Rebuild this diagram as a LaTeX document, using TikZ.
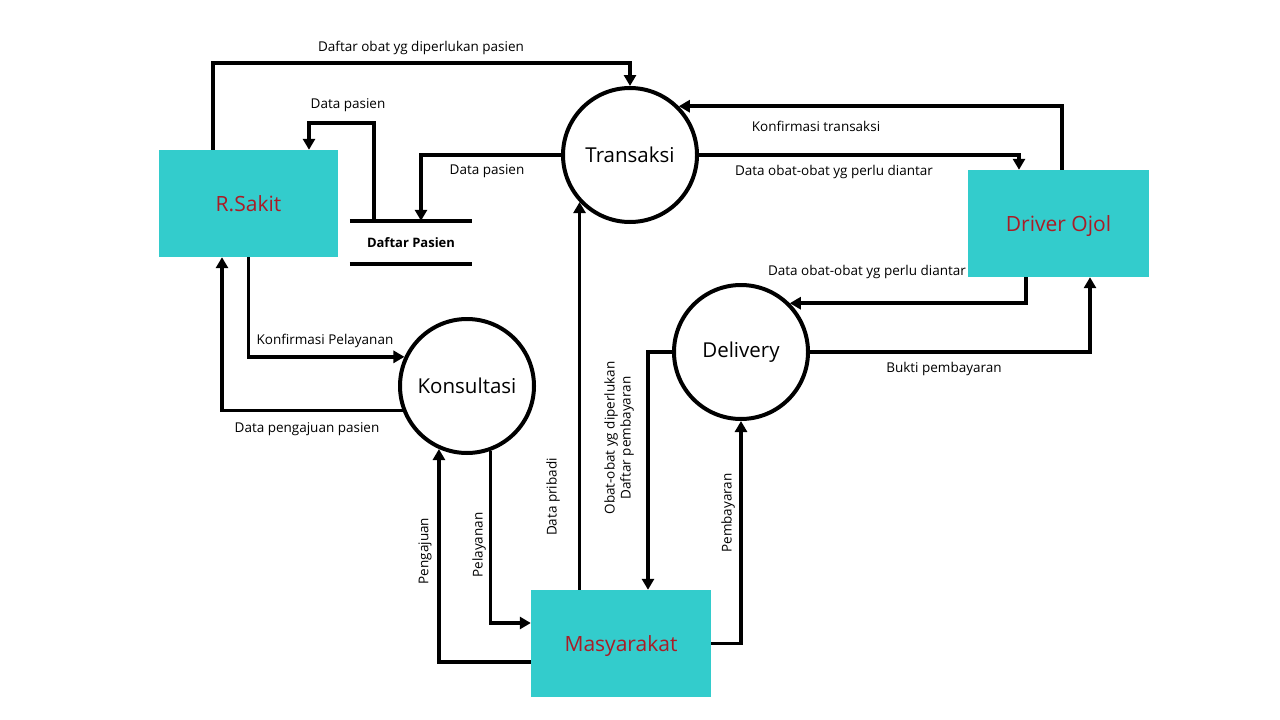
\documentclass[tikz,border=0pt]{standalone}
\usepackage{fontspec}
\setmainfont{Open Sans}
\usetikzlibrary{arrows.meta,calc}
\definecolor{teal2}{RGB}{51,204,204}
\definecolor{darkred2}{RGB}{170,28,38}
\tikzset{
  entity/.style={rectangle,fill=teal2,draw=none,font=\fontsize{21}{25}\selectfont,text=darkred2,text depth=0pt},
  process/.style={circle,draw=black,line width=4pt,minimum size=134pt,inner sep=0pt,font=\fontsize{20.5}{24}\selectfont,fill=white},
  flow/.style={line width=3.5pt,-{Triangle[length=11pt,width=12pt]}},
  lbl/.style={font=\fontsize{13.5}{16}\selectfont,inner sep=0pt},
  vlbl/.style={lbl,rotate=90,align=center},
  storeline/.style={line width=3.5pt}
}
\begin{document}
\begin{tikzpicture}[x=1pt,y=-1pt]
\useasboundingbox[fill=white] (0,0) rectangle (1280,720);
% nodes
\node[entity,minimum width=179pt,minimum height=107pt] (rs) at (248.5,203.5) {R.Sakit};
\node[entity,minimum width=181pt,minimum height=107pt] (dr) at (1058.5,223.5) {Driver Ojol};
\node[entity,minimum width=180pt,minimum height=107pt] (ms) at (621,643.5) {Masyarakat};
\node[process] (tr) at (630,155) {Transaksi};
\node[process] (ks) at (467,386) {Konsultasi};
\node[process] (dl) at (741,352) {Delivery};
\node[rectangle,minimum width=122pt,minimum height=43pt,inner sep=0pt,font=\fontsize{13}{15}\selectfont\bfseries] (dp) at (411,242.5) {Daftar Pasien};
\draw[storeline] (dp.north west) -- (dp.north east);
\draw[storeline] (dp.south west) -- (dp.south east);
% connectors
\draw[flow] ([xshift=-35.5pt]rs.north) -- ++(0,-87) -| (tr.north);
\draw[flow] ([xshift=-37pt]dp.north) -- ++(0,-98) -| ([xshift=60.5pt]rs.north);
\draw[flow] (tr.west) -| ([xshift=10pt]dp.north);
\draw[flow] ([xshift=3.5pt]dr.north) |- (tr.45);
\draw[flow] (tr.east) -| ([xshift=-39.5pt]dr.north);
\draw[flow] ([xshift=-32.5pt]dr.south) |- (dl.45);
\draw[flow] (dl.east) -| ([xshift=31.5pt]dr.south);
\draw[flow] (rs.south) |- (ks.155);
\draw[flow] (ks.201) -| ([xshift=-26.5pt]rs.south);
\draw[flow] ([yshift=-18.5pt]ms.west) -| (ks.246);
\draw[flow] (ks.290) |- ([yshift=20.5pt]ms.west);
\draw[flow] (tr.223.5 |- ms.north) -- (tr.223.5);
\draw[flow] (dl.west) -| ([xshift=27pt]ms.north);
\draw[flow] (ms.east) -| (dl.south);
% labels
\node[lbl] (l1) at (421,48) {Daftar obat yg diperlukan pasien};
\node[lbl] (l2) at (348,105) {Data pasien};
\node[lbl] (l3) at (487,171) {Data pasien};
\node[lbl] (l4) at (816,126) {Konfirmasi transaksi};
\node[lbl] (l5) at (834,172) {Data obat-obat yg perlu diantar};
\node[lbl] (l6) at (867,272) {Data obat-obat yg perlu diantar};
\node[lbl] (l7) at (944,369) {Bukti pembayaran};
\node[lbl] (l8) at (325,341) {Konfirmasi Pelayanan};
\node[lbl] (l9) at (307,429) {Data pengajuan pasien};
\node[vlbl] (l10) at (425,551) {Pengajuan};
\node[vlbl] (l11) at (479,545) {Pelayanan};
\node[vlbl] (l12) at (553,497) {Data pribadi};
\node[vlbl] (l13) at (619,438) {Obat-obat yg diperlukan\\Daftar pembayaran};
\node[vlbl] (l14) at (728,513) {Pembayaran};
\end{tikzpicture}
\end{document}
